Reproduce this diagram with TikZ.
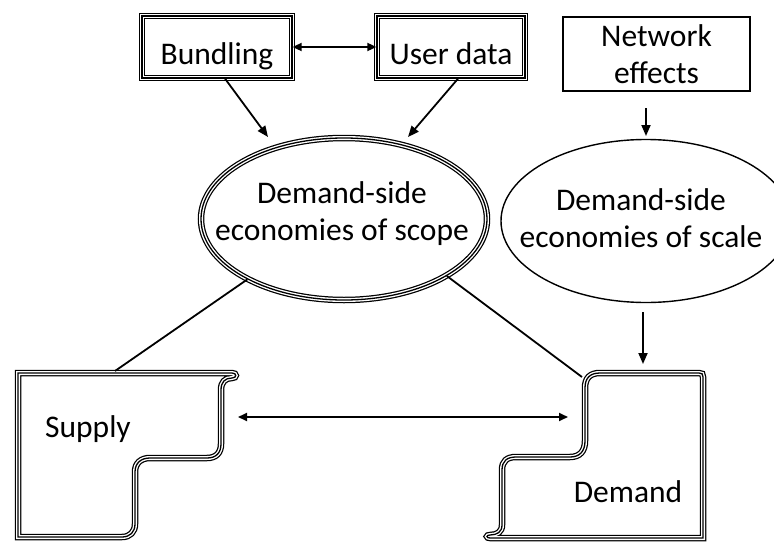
\documentclass[tikz,border=0pt]{standalone}
\usepackage{fontspec}
\setmainfont{Carlito}
\usetikzlibrary{arrows.meta,shapes.geometric,calc}
\begin{document}
\begin{tikzpicture}[x=1pt,y=-1pt,
  every node/.style={font=\fontsize{31.5}{37}\selectfont},
  tri/.style={draw=black,line width=1.3pt,
    preaction={draw=black,line width=6.5pt},
    preaction={draw=white,line width=4pt}},
  trinode/.style={tri,rectangle,inner sep=0pt,text height=34pt,text depth=0pt},
  arr/.style={line width=1.8pt,-{Triangle[length=11pt,width=9pt]}},
  darr/.style={line width=1.8pt,{Triangle[length=9pt,width=8pt]}-{Triangle[length=9pt,width=8pt]}},
  plain/.style={line width=1.8pt},
  txt/.style={inner sep=0pt,align=center}]
\useasboundingbox (0,0) rectangle (774,541);
\clip (0,0) rectangle (774,541);

% top boxes
\node[trinode,minimum width=150pt,minimum height=62pt] (bund) at (217,47) {Bundling};
\node[trinode,minimum width=148pt,minimum height=62pt] (user) at (451,47) {User data};
\node[draw,line width=1.3pt,rectangle,minimum width=187pt,minimum height=74pt,align=center,inner sep=0pt] (net) at (656.5,54) {Network\\effects};

% ellipses
\node[tri,ellipse,minimum width=286pt,minimum height=162pt,inner sep=0pt] (e1) at (344,219) {};
\node[txt] (e1t) at (342,214) {Demand-side\\economies of scope};
\node[draw,line width=1.4pt,ellipse,minimum width=290pt,minimum height=163pt,inner sep=0pt] (e2) at (646,221) {};
\node[txt] (e2t) at (641,218) {Demand-side\\economies of scale};

% supply shape
\draw[tri] (18,373) -- (232,373) .. controls (237,373) and (237,378) .. (232,378)
  .. controls (225,378) and (221,382) .. (221,390) -- (221,444)
  .. controls (221,453) and (216,458) .. (207,458) -- (150,458)
  .. controls (141,458) and (135,463) .. (135,472) -- (135,524)
  .. controls (135,532) and (130,537) .. (122,537) -- (18,537) -- cycle;
\node[anchor=base,inner sep=0pt] (sup) at (88,437) {Supply};

% demand shape
\draw[tri] (600,373) -- (699,373) .. controls (702,373) and (703,374) .. (703,377)
  -- (703,538) -- (490,538) .. controls (486,538) and (486,535) .. (490,535)
  .. controls (497,535) and (502,532) .. (502,525) -- (502,470)
  .. controls (502,461) and (507,457) .. (516,457) -- (570,457)
  .. controls (580,457) and (585,451) .. (585,441) -- (585,388)
  .. controls (585,378) and (590,373) .. (600,373) -- cycle;
\node[anchor=base,inner sep=0pt] (dem) at (628,502) {Demand};

% coordinates
\coordinate (b1) at (268,137);
\coordinate (u1) at (408,137);
\coordinate (n0) at (646,108);
\coordinate (n1) at (646,136);
\coordinate (d0) at (643,312);
\coordinate (d1) at (643,364);
\coordinate (stop) at (115,371);
\coordinate (dtop) at (582,377);
\coordinate (sa) at (238,417);
\coordinate (da) at (568,417);

% connectors
\draw[darr] (bund.east) -- (user.west);
\draw[arr] ($(bund.south west)!0.553!(bund.south east)$) -- (b1);
\draw[arr] ($(user.south west)!0.547!(user.south east)$) -- (u1);
\draw[arr] (n0) -- (n1);
\draw[arr] (d0) -- (d1);
\draw[plain] (e1.212) -- (stop);
\draw[plain] (e1.331) -- (dtop);
\draw[darr] (sa) -- (da);
\end{tikzpicture}
\end{document}
